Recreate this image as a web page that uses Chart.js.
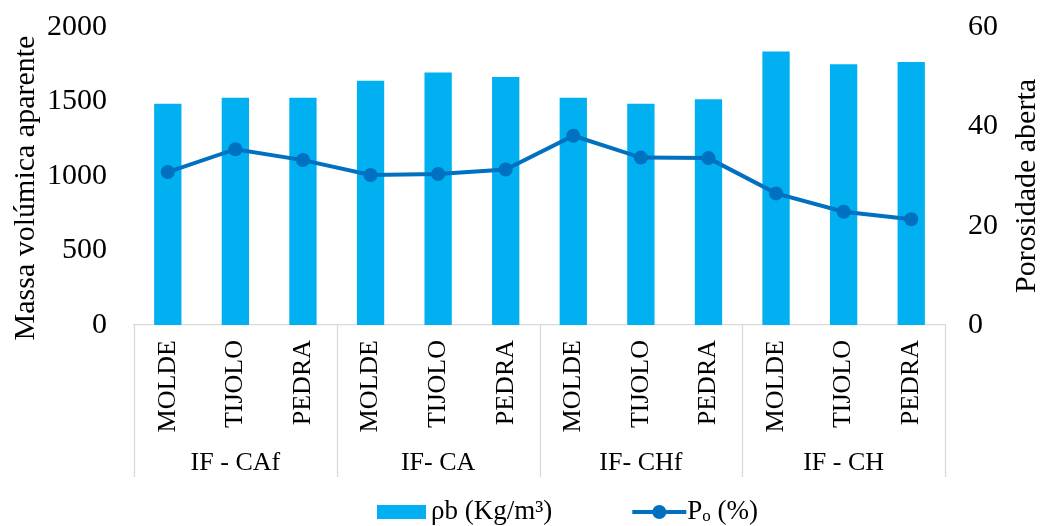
<!DOCTYPE html>
<html>
<head>
<meta charset="utf-8">
<script src="https://cdn.jsdelivr.net/npm/chart.js@4"></script>
<style>
  html, body { margin: 0; padding: 0; background: #fff; }
  #wrap { width: 1042px; height: 526px; }
</style>
</head>
<body>
<div id="wrap"><canvas id="chart" width="1042" height="526"></canvas></div>
<script>
// Sample types per mix, and the mixes they belong to
const materials = ['MOLDE', 'TIJOLO', 'PEDRA', 'MOLDE', 'TIJOLO', 'PEDRA',
                   'MOLDE', 'TIJOLO', 'PEDRA', 'MOLDE', 'TIJOLO', 'PEDRA'];
const groups = ['IF - CAf', 'IF- CA', 'IF- CHf', 'IF - CH'];

// Bulk density (kg/m³) and open porosity (%)
const density  = [1485, 1525, 1525, 1640, 1695, 1665, 1525, 1485, 1515, 1835, 1750, 1765];
const porosity = [30.8, 35.4, 33.2, 30.2, 30.4, 31.3, 38.1, 33.7, 33.6, 26.5, 22.8, 21.3];

// Axis ranges: [min, max, step]
const densityRange  = [0, 2000, 500];
const porosityRange = [0, 60, 20];

const densityLabel  = 'ρb (Kg/m³)';
const porosityLabel = 'Pₒ (%)';
const porosityLegendParts = ['P', 'o', ' (%)'];
const leftTitle  = 'Massa volúmica aparente';
const rightTitle = 'Porosidade aberta';

const FONT = '"Liberation Serif", "Times New Roman", serif';
const BAR_COLOR = '#00B0F0';
const LINE_COLOR = '#0070C0';
const RULE_COLOR = '#D9D9D9';

// Group separators, rotated axis titles and the legend row
const decor = {
  id: 'decor',
  afterDraw(chart) {
    const { ctx, chartArea } = chart;
    const x2 = chart.scales.x2;
    ctx.save();

    // vertical separators between mixes
    ctx.strokeStyle = RULE_COLOR;
    ctx.lineWidth = 1.3;
    const span = (chartArea.right - chartArea.left) / groups.length;
    for (let i = 0; i <= groups.length; i++) {
      const x = Math.round(chartArea.left + i * span) + 0.5;
      ctx.beginPath();
      ctx.moveTo(x, chartArea.bottom);
      ctx.lineTo(x, x2.bottom);
      ctx.stroke();
    }

    // axis titles, both reading upwards
    ctx.fillStyle = '#000';
    ctx.font = `30px ${FONT}`;
    ctx.textAlign = 'center';
    ctx.textBaseline = 'middle';
    const drawVertical = (text, x, y) => {
      ctx.save();
      ctx.translate(x, y);
      ctx.rotate(-Math.PI / 2);
      ctx.fillText(text, 0, 0);
      ctx.restore();
    };
    drawVertical(leftTitle, 26, 188);
    drawVertical(rightTitle, chart.width - 15, 186);

    // legend
    const ly = chart.height - 14;
    ctx.textAlign = 'left';
    let x = 377;
    ctx.fillStyle = BAR_COLOR;
    ctx.fillRect(x, ly - 7, 49, 14);
    x += 54;
    ctx.fillStyle = '#000';
    ctx.font = `27px ${FONT}`;
    ctx.fillText(densityLabel, x, ly);
    x += ctx.measureText(densityLabel).width + 80;

    ctx.strokeStyle = LINE_COLOR;
    ctx.lineWidth = 4;
    ctx.beginPath();
    ctx.moveTo(x, ly);
    ctx.lineTo(x + 54, ly);
    ctx.stroke();
    ctx.fillStyle = LINE_COLOR;
    ctx.beginPath();
    ctx.arc(x + 27, ly, 7, 0, Math.PI * 2);
    ctx.fill();
    x += 55;

    ctx.fillStyle = '#000';
    ctx.font = `27px ${FONT}`;
    ctx.fillText(porosityLegendParts[0], x, ly);
    x += ctx.measureText(porosityLegendParts[0]).width;
    ctx.font = `17px ${FONT}`;
    ctx.fillText(porosityLegendParts[1], x, ly + 5);
    x += ctx.measureText(porosityLegendParts[1]).width;
    ctx.font = `27px ${FONT}`;
    ctx.fillText(porosityLegendParts[2], x, ly);

    ctx.restore();
  }
};

const plainNumber = (v) => String(v);

// fixed side widths; the tick padding should not push the plot top down
const fixWidth = (w) => (s) => {
  s.width = w;
  s.paddingTop = 0;
  s.paddingBottom = 0;
};

const noGrid = { display: false, drawTicks: false };

new Chart(document.getElementById('chart'), {
  data: {
    labels: materials,
    datasets: [
      {
        type: 'line',
        label: porosityLabel,
        data: porosity,
        yAxisID: 'y1',
        borderColor: LINE_COLOR,
        backgroundColor: LINE_COLOR,
        borderWidth: 4,
        pointRadius: 7,
        pointHoverRadius: 7,
        pointBackgroundColor: LINE_COLOR,
        pointBorderWidth: 0,
        tension: 0,
        order: 0
      },
      {
        type: 'bar',
        label: densityLabel,
        data: density,
        yAxisID: 'y',
        backgroundColor: BAR_COLOR,
        barPercentage: 0.404,
        categoryPercentage: 1,
        order: 1
      }
    ]
  },
  options: {
    responsive: false,
    animation: false,
    events: [],
    layout: { padding: { top: 27, bottom: 49, left: 0, right: 0 } },
    plugins: { legend: { display: false }, tooltip: { enabled: false } },
    scales: {
      x: {
        type: 'category',
        position: 'bottom',
        weight: 0,
        offset: true,
        grid: noGrid,
        border: { display: true, color: RULE_COLOR, width: 1.3 },
        ticks: {
          minRotation: 90, maxRotation: 90, autoSkip: false, padding: 15,
          color: '#000', font: { family: FONT, size: 26 }
        },
        afterFit(s) { s.height = 107; }
      },
      x2: {
        type: 'category',
        position: 'bottom',
        weight: 1,
        labels: groups,
        offset: true,
        grid: noGrid,
        border: { display: false },
        ticks: { padding: 16, color: '#000', font: { family: FONT, size: 26 } },
        afterFit(s) { s.height = 45; }
      },
      y: {
        position: 'left',
        min: densityRange[0], max: densityRange[1],
        grid: noGrid,
        border: { display: false },
        ticks: {
          stepSize: densityRange[2], padding: 27, color: '#000',
          font: { family: FONT, size: 30 }, callback: plainNumber
        },
        afterFit: fixWidth(134)
      },
      y1: {
        position: 'right',
        min: porosityRange[0], max: porosityRange[1],
        grid: noGrid,
        border: { display: false },
        ticks: {
          stepSize: porosityRange[2], padding: 23, color: '#000',
          font: { family: FONT, size: 30 }, callback: plainNumber
        },
        afterFit: fixWidth(97)
      }
    }
  },
  plugins: [decor]
});
</script>
</body>
</html>
